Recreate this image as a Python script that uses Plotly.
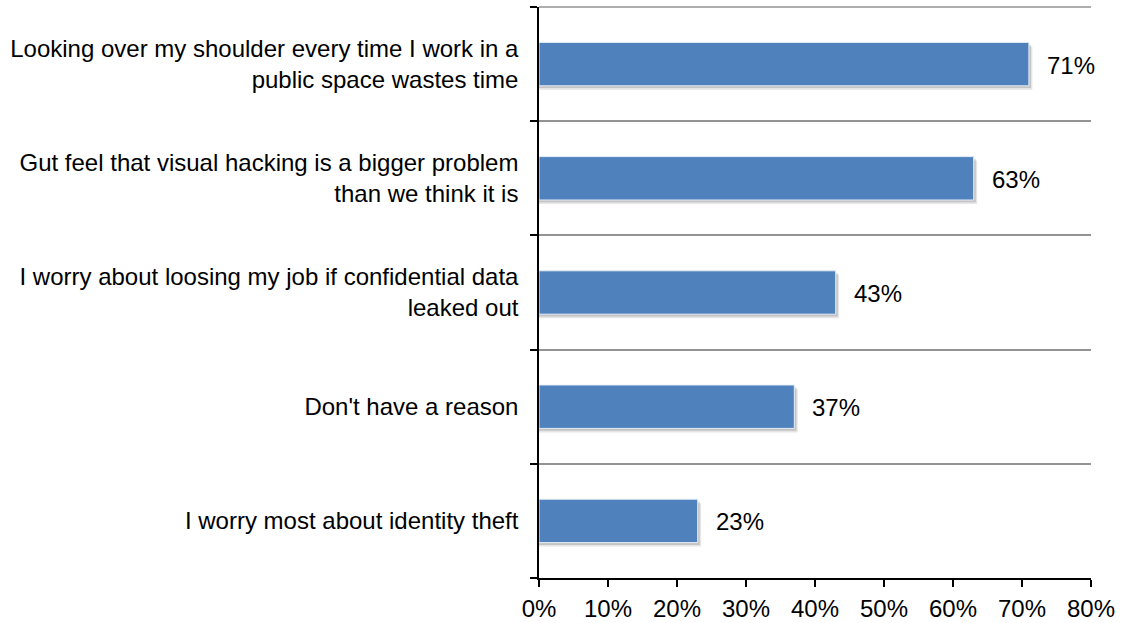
import plotly.graph_objects as go

# Survey responses, top to bottom
categories = [
    "Looking over my shoulder every time I work in a<br>public space wastes time",
    "Gut feel that visual hacking is a bigger problem<br>than we think it is",
    "I worry about loosing my job if confidential data<br>leaked out",
    "Don't have a reason",
    "I worry most about identity theft",
]
values = [71, 63, 43, 37, 23]
x_ticks = [0, 10, 20, 30, 40, 50, 60, 70, 80]
x_tick_labels = [f"{t}%" for t in x_ticks]

FONT = "Liberation Sans, Arial, sans-serif"
FONT_SIZE = 24
BAR_COLOR = "#4f81bd"
GRID_COLOR = "#939393"

fig = go.Figure()

# soft drop shadow below and right of each bar
fig.add_trace(go.Bar(
    y=categories, x=[v + 0.5 for v in values], orientation="h",
    marker=dict(color="rgba(0,0,0,0.10)", line=dict(width=0)),
    offset=-0.19 - 0.035, width=0.38,
    hoverinfo="skip", showlegend=False,
))
fig.add_trace(go.Bar(
    y=categories, x=[v + 0.3 for v in values], orientation="h",
    marker=dict(color="rgba(0,0,0,0.14)", line=dict(width=0)),
    offset=-0.19 - 0.02, width=0.38,
    hoverinfo="skip", showlegend=False,
))
# main bars
fig.add_trace(go.Bar(
    y=categories, x=values, orientation="h",
    marker=dict(color=BAR_COLOR, line=dict(color="#e6edf6", width=1)),
    offset=-0.19, width=0.38,
    showlegend=False,
))

# value labels to the right of each bar
for cat, v in zip(categories, values):
    fig.add_annotation(
        x=v, y=cat, text=f"{v}%", showarrow=False,
        xanchor="left", yanchor="middle", xshift=16, yshift=-1,
        font=dict(family=FONT, size=FONT_SIZE, color="#000000"),
    )

# top gridline along the upper edge of the plot area
fig.add_shape(
    type="line", xref="paper", yref="paper",
    x0=0, x1=1, y0=1, y1=1,
    line=dict(color=GRID_COLOR, width=1.6), layer="below",
)

fig.update_layout(
    width=1122, height=623,
    margin=dict(l=539, r=31, t=7, b=45, autoexpand=False),
    paper_bgcolor="white", plot_bgcolor="white",
    barmode="overlay",
    font=dict(family=FONT, size=FONT_SIZE, color="#000000"),
)
fig.update_xaxes(
    range=[0, 80], tickvals=x_ticks, ticktext=x_tick_labels,
    showgrid=False, zeroline=False,
    showline=True, linecolor="#000000", linewidth=1.5,
    ticks="outside", ticklen=7, tickwidth=1.5, tickcolor="#000000",
    tickfont=dict(family=FONT, size=FONT_SIZE),
    ticklabelstandoff=1, automargin=False,
)
fig.update_yaxes(
    categoryorder="array", categoryarray=categories[::-1],
    tickson="boundaries",
    showgrid=True, gridcolor=GRID_COLOR, gridwidth=1.6,
    zeroline=False,
    showline=True, linecolor="#000000", linewidth=1.5,
    ticks="outside", ticklen=7, tickwidth=1.5, tickcolor="#000000",
    tickfont=dict(family=FONT, size=FONT_SIZE),
    ticklabelstandoff=14, automargin=False,
)

fig.write_html("out.html")
